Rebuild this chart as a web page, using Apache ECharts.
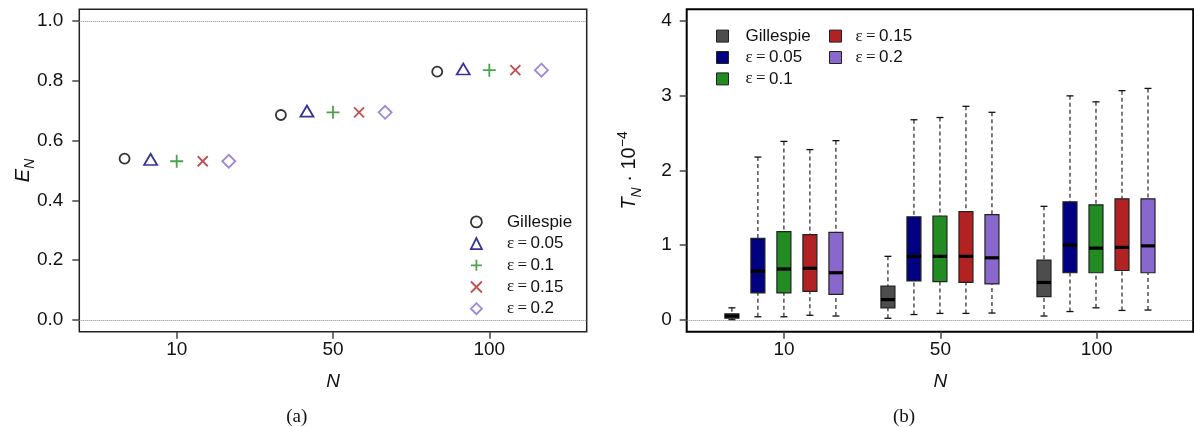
<!DOCTYPE html>
<html>
<head>
<meta charset="utf-8">
<script src="https://cdn.jsdelivr.net/npm/echarts@6/dist/echarts.min.js"></script>
<style>
  html, body { margin: 0; padding: 0; background: #fff; }
  #main { width: 1194px; height: 427px; }
</style>
</head>
<body>
<div id="main"></div>
<script>
// 横轴分类 N
var nLabels = ['10', '50', '100'];
// 图例名 (Gillespie + 各 ε)
var methodNames = ['Gillespie', '0.05', '0.1', '0.15', '0.2'];

// (a) E_N 的取值
var effGillespie = [0.540, 0.686, 0.831];
var eff005 = [0.537, 0.699, 0.840];
var eff01 = [0.531, 0.695, 0.836];
var eff015 = [0.531, 0.695, 0.836];
var eff02 = [0.531, 0.695, 0.836];

// (b) T_N·10^-4 箱线图: [下须, Q1, 中位数, Q3, 上须]
var timeGillespie = [[0.00, 0.02, 0.05, 0.08, 0.16], [0.02, 0.16, 0.27, 0.45, 0.85], [0.05, 0.31, 0.50, 0.80, 1.52]];
var time005 = [[0.04, 0.36, 0.65, 1.09, 2.18], [0.07, 0.52, 0.85, 1.38, 2.68], [0.11, 0.63, 1.00, 1.58, 3.00]];
var time01 = [[0.04, 0.36, 0.68, 1.18, 2.39], [0.085, 0.51, 0.85, 1.39, 2.71], [0.16, 0.63, 0.96, 1.54, 2.92]];
var time015 = [[0.06, 0.38, 0.69, 1.14, 2.28], [0.085, 0.50, 0.85, 1.45, 2.86], [0.125, 0.66, 0.97, 1.62, 3.07]];
var time02 = [[0.05, 0.34, 0.63, 1.17, 2.40], [0.09, 0.48, 0.83, 1.41, 2.78], [0.13, 0.63, 0.99, 1.62, 3.10]];

var effList = [effGillespie, eff005, eff01, eff015, eff02];
var timeList = [timeGillespie, time005, time01, time015, time02];

// 样式
var symbolColors = ['#000000', '#000080', '#228b22', '#b22222', '#8968cd'];
var boxColors = ['#4d4d4d', '#000080', '#228b22', '#b22222', '#8968cd'];
var symbols = ['circle', 'triangle', 'path://M0,5L10,5M5,0L5,10', 'path://M0,0L10,10M0,10L10,0', 'diamond'];
var symbolSizes = [10, [13, 11], 13, 10, 13];
var groupOffsets = [-1 / 3, -1 / 6, 0, 1 / 6, 1 / 3];
var sansFont = '"Liberation Sans", Arial, sans-serif';
var serifFont = '"Liberation Serif", "DejaVu Serif", serif';

function legendLabel(name) {
  var k = parseInt(name.split('|')[1]);
  if (k === 0) return methodNames[0];
  return '{e|ε\u2009=\u2009}' + methodNames[k];
}

// 箱线图自定义绘制
function renderBox(params, api) {
  var x = api.value(0);
  var low = api.coord([x, api.value(1)]);
  var q1 = api.coord([x, api.value(2)]);
  var med = api.coord([x, api.value(3)]);
  var q3 = api.coord([x, api.value(4)]);
  var high = api.coord([x, api.value(5)]);
  var cx = low[0];
  var halfBox = 7, halfCap = 3.5;
  var dash = { stroke: '#111', lineWidth: 1.1, lineDash: [4, 3] };
  var solid = { stroke: '#111', lineWidth: 1.3 };
  return {
    type: 'group',
    children: [
      { type: 'line', shape: { x1: cx, y1: high[1], x2: cx, y2: q3[1] }, style: dash },
      { type: 'line', shape: { x1: cx, y1: low[1], x2: cx, y2: q1[1] }, style: dash },
      { type: 'line', shape: { x1: cx - halfCap, y1: high[1], x2: cx + halfCap, y2: high[1] }, style: solid },
      { type: 'line', shape: { x1: cx - halfCap, y1: low[1], x2: cx + halfCap, y2: low[1] }, style: solid },
      { type: 'rect', shape: { x: cx - halfBox, y: q3[1], width: halfBox * 2, height: q1[1] - q3[1] },
        style: { fill: api.visual('color'), stroke: '#222', lineWidth: 1.2 } },
      { type: 'line', shape: { x1: cx - halfBox, y1: med[1], x2: cx + halfBox, y2: med[1] },
        style: { stroke: '#000', lineWidth: 3.2 } }
    ]
  };
}

var series = [];
effList.forEach(function (arr, k) {
  series.push({
    name: 'a|' + k,
    type: 'scatter',
    xAxisIndex: 0,
    yAxisIndex: 0,
    symbol: symbols[k],
    symbolSize: symbolSizes[k],
    itemStyle: { color: 'transparent', borderColor: symbolColors[k], borderWidth: 1.8 },
    data: arr.map(function (v, i) { return [i + groupOffsets[k], v]; }),
    markLine: k === 0 ? {
      silent: true, symbol: 'none', label: { show: false },
      lineStyle: { color: '#888', type: 'dotted', width: 1 },
      data: [{ yAxis: 0 }, { yAxis: 1 }]
    } : undefined
  });
});
timeList.forEach(function (arr, k) {
  series.push({
    name: 'b|' + k,
    type: 'custom',
    xAxisIndex: 1,
    yAxisIndex: 1,
    itemStyle: { color: boxColors[k] },
    renderItem: renderBox,
    encode: { x: 0, y: [1, 2, 3, 4, 5] },
    data: arr.map(function (v, i) { return [i + groupOffsets[k]].concat(v); }),
    markLine: k === 0 ? {
      silent: true, symbol: 'none', label: { show: false },
      lineStyle: { color: '#888', type: 'dotted', width: 1 },
      data: [{ yAxis: 0 }]
    } : undefined
  });
});

// 数据坐标轴 (只负责比例, 不显示)
function dataAxis(idx, min, max) {
  return { gridIndex: idx, type: 'value', min: min, max: max, show: false };
}

// 刻度坐标轴: 只画刻度与文字
function tickStyle() {
  return { show: true, length: 7, lineStyle: { color: '#444', width: 1.5 } };
}
function labelFont() {
  return { fontSize: 19, color: '#111', fontFamily: sansFont };
}

function tickXAxis(idx) {
  return {
    gridIndex: idx, type: 'value', min: 0, max: 2, interval: 1,
    axisLine: { show: false, onZero: false }, splitLine: { show: false },
    axisTick: tickStyle(),
    axisLabel: Object.assign({ margin: 9, formatter: function (v) { return nLabels[v]; } }, labelFont()),
    name: 'N', nameLocation: 'middle', nameGap: 41, nameMoveOverlap: false,
    nameTextStyle: { fontStyle: 'italic', fontSize: 19, color: '#111', fontFamily: sansFont }
  };
}

var legendText = {
  fontSize: 17, color: '#111', fontFamily: sansFont,
  rich: { e: { fontFamily: serifFont, fontSize: 17, color: '#111' } }
};

var option = {
  animation: false,
  textStyle: { fontFamily: sansFont },
  grid: [
    // 0,1: 两个图的绘图区
    { left: 79.3, top: 9.3, width: 507.4, height: 322.4, show: true, borderColor: '#222', borderWidth: 1.5 },
    { left: 686.7, top: 9.3, width: 506.5, height: 322.4, show: true, borderColor: '#000', borderWidth: 2 },
    // 2,3: (a) 的 y / x 刻度
    { left: 79.3, top: 21.2, width: 507.4, height: 298.5 },
    { left: 176.7, top: 9.3, width: 312.6, height: 322.4 },
    // 4,5: (b) 的 y / x 刻度
    { left: 686.7, top: 21.2, width: 506.5, height: 298.5 },
    { left: 784.1, top: 9.3, width: 312.6, height: 322.4 }
  ],
  xAxis: [
    dataAxis(0, -0.623, 2.623),
    dataAxis(1, -0.623, 2.623),
    dataAxis(2, 0, 1),
    tickXAxis(3),
    dataAxis(4, 0, 1),
    tickXAxis(5)
  ],
  yAxis: [
    dataAxis(0, -0.04, 1.04),
    dataAxis(1, -0.16, 4.16),
    {
      gridIndex: 2, type: 'value', min: 0, max: 1, interval: 0.2,
      axisLine: { show: false, onZero: false }, splitLine: { show: false },
      axisTick: tickStyle(),
      axisLabel: Object.assign({ margin: 16, formatter: function (v) { return v.toFixed(1); } }, labelFont()),
      name: '{i|E}{s|N}',
      nameLocation: 'middle',
      nameGap: 42,
      nameMoveOverlap: false,
      nameTextStyle: {
        rich: {
          i: { fontStyle: 'italic', fontSize: 20, color: '#111', verticalAlign: 'bottom', padding: [0, 0, 4, 0] },
          s: { fontStyle: 'italic', fontSize: 14, color: '#111', verticalAlign: 'bottom' }
        }
      }
    },
    dataAxis(3, 0, 1),
    {
      gridIndex: 4, type: 'value', min: 0, max: 4, interval: 1,
      axisLine: { show: false, onZero: false }, splitLine: { show: false },
      axisTick: tickStyle(),
      axisLabel: Object.assign({ margin: 15, formatter: function (v) { return String(v); } }, labelFont()),
      name: '{i|T}{s|N}{n| · 10}{p|−4}',
      nameLocation: 'middle',
      nameGap: 43,
      nameMoveOverlap: false,
      nameTextStyle: {
        rich: {
          i: { fontStyle: 'italic', fontSize: 20, color: '#111', verticalAlign: 'bottom', padding: [0, 0, 4, 0] },
          s: { fontStyle: 'italic', fontSize: 14, color: '#111', verticalAlign: 'bottom' },
          n: { fontSize: 20, color: '#111', verticalAlign: 'bottom', padding: [0, 0, 4, 0] },
          p: { fontSize: 14, color: '#111', verticalAlign: 'bottom', padding: [0, 0, 14, 0] }
        }
      }
    },
    dataAxis(5, 0, 1)
  ],
  legend: [
    {
      data: ['a|0', 'a|1', 'a|2', 'a|3', 'a|4'],
      orient: 'vertical', left: 470, top: 213.4, padding: 0,
      itemWidth: 11, itemHeight: 11, itemGap: 4.7,
      selectedMode: false,
      itemStyle: { borderWidth: 1.8 },
      textStyle: Object.assign({ padding: [0, 0, 0, 20] }, legendText),
      formatter: legendLabel
    },
    {
      data: ['b|0', 'b|1', 'b|2'],
      orient: 'vertical', left: 716, top: 27.6, padding: 0,
      itemWidth: 12, itemHeight: 12, itemGap: 4.4, icon: 'rect',
      selectedMode: false,
      itemStyle: { borderColor: '#222', borderWidth: 1 },
      textStyle: Object.assign({ padding: [0, 0, 0, 12] }, legendText),
      formatter: legendLabel
    },
    {
      data: ['b|3', 'b|4'],
      orient: 'vertical', left: 829, top: 27.6, padding: 0,
      itemWidth: 12, itemHeight: 12, itemGap: 4.4, icon: 'rect',
      selectedMode: false,
      itemStyle: { borderColor: '#222', borderWidth: 1 },
      textStyle: Object.assign({ padding: [0, 0, 0, 9] }, legendText),
      formatter: legendLabel
    }
  ],
  graphic: [
    { type: 'text', x: 296.7, y: 416.7, style: { text: '(a)', font: '19px ' + serifFont, fill: '#111', align: 'center', verticalAlign: 'middle' } },
    { type: 'text', x: 904, y: 416.7, style: { text: '(b)', font: '19px ' + serifFont, fill: '#111', align: 'center', verticalAlign: 'middle' } }
  ],
  series: series
};

var chart = echarts.init(document.getElementById('main'));
chart.setOption(option);
</script>
</body>
</html>
